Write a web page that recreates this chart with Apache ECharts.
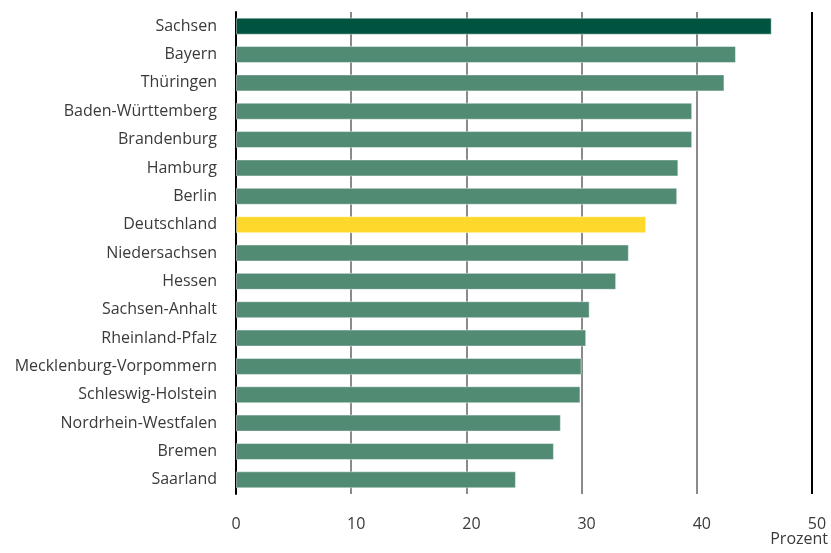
<!DOCTYPE html>
<html><head><meta charset="utf-8">
<script src="https://cdn.jsdelivr.net/npm/echarts@6/dist/echarts.min.js"></script>
<style>html,body{margin:0;padding:0;background:#fff}#c{width:831px;height:553px}</style>
</head><body><div id="c"></div>
<script>
const categories = ["Sachsen","Bayern","Thüringen","Baden-Württemberg","Brandenburg","Hamburg","Berlin","Deutschland","Niedersachsen","Hessen","Sachsen-Anhalt","Rheinland-Pfalz","Mecklenburg-Vorpommern","Schleswig-Holstein","Nordrhein-Westfalen","Bremen","Saarland"];
const values = [46.5,43.4,42.4,39.6,39.6,38.4,38.3,35.6,34.1,33.0,30.7,30.4,30.0,29.9,28.2,27.6,24.3];
const xTicks = [0,10,20,30,40,50];
const unitLabel = "Prozent";

const FONT = "Open Sans";
const colorFor = name => name === "Sachsen" ? "#00543f" : (name === "Deutschland" ? "#fed92b" : "#528b74");
const chart = echarts.init(document.getElementById('c'));
chart.setOption({
  animation: false,
  grid: {left: 236, right: 19, top: 12, bottom: 59},
  xAxis: {
    type: 'value', min: xTicks[0], max: xTicks[xTicks.length-1], interval: 10,
    axisLine: {show: false}, axisTick: {show: false},
    axisLabel: {
      fontFamily: FONT, fontSize: 16, color: '#3a3a3a', margin: 22,
      formatter: v => v === 0 ? '{z|' + v + '}' : '{n|' + v + '}',
      rich: {
        z: {fontFamily: FONT, fontSize: 16, color: '#3a3a3a'},
        n: {fontFamily: FONT, fontSize: 16, color: '#3a3a3a', padding: [0, 0, 0, 10]}
      }
    },
    splitLine: {show: true, lineStyle: {color: ['#000','#8a8a8a','#8a8a8a','#8a8a8a','#8a8a8a','#000'], width: 2}}
  },
  yAxis: {
    type: 'category', data: categories, inverse: true,
    axisLine: {show: true, lineStyle: {color: '#000', width: 2}},
    axisTick: {show: false},
    axisLabel: {fontFamily: FONT, fontSize: 16, color: '#3a3a3a', margin: 19}
  },
  graphic: [{type: 'text', right: 3, top: 531, style: {text: unitLabel, fontFamily: FONT, fontSize: 16, fill: '#3a3a3a'}}],
  series: [{
    type: 'bar', barCategoryGap: '40%',
    data: values.map((v, i) => ({value: v, itemStyle: {color: colorFor(categories[i])}})),
    itemStyle: {borderColor: 'rgba(255,255,255,0.45)', borderWidth: 1}
  }]
});
</script></body></html>
